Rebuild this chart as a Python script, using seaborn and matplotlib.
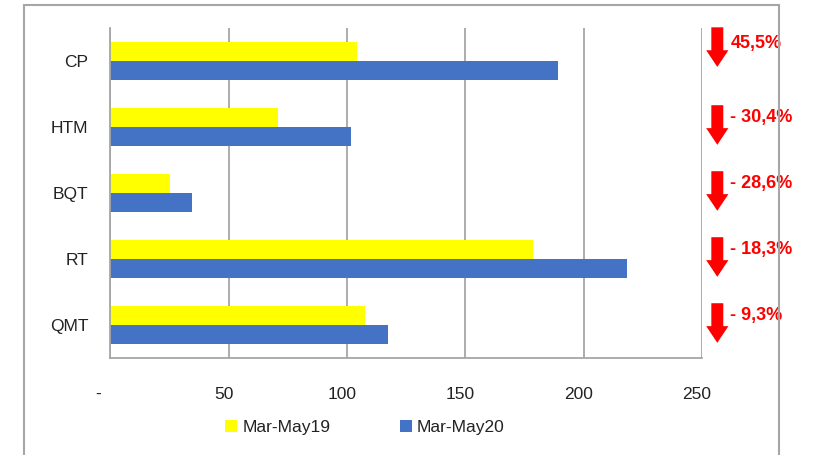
import matplotlib
matplotlib.use("Agg")
import matplotlib.pyplot as plt
import matplotlib.transforms as mtransforms
from matplotlib.patches import Rectangle
import seaborn as sns
import pandas as pd

# Data
categories = ["CP", "HTM", "BQT", "RT", "QMT"]
mar_may19 = [104, 71, 25, 178.5, 107.5]
mar_may20 = [189, 101.5, 34.5, 218.5, 117.5]
series_names = ["Mar-May19", "Mar-May20"]
changes = ["45,5%", "- 30,4%", "- 28,6%", "- 18,3%", "- 9,3%"]
x_ticks = [0, 50, 100, 150, 200, 250]
x_ticklabels = ["-", "50", "100", "150", "200", "250"]

df = pd.DataFrame({
    "cat": categories * 2,
    "val": mar_may19 + mar_may20,
    "period": [series_names[0]] * 5 + [series_names[1]] * 5,
})

sns.set_style("white")
plt.rcParams["font.family"] = ["Liberation Sans", "DejaVu Sans"]
grey = "#a6a6a6"

fig = plt.figure(figsize=(8.16, 4.55), dpi=100)
ax = fig.add_axes([0.1354, 0.2132, 0.7248, 0.7253])

sns.barplot(data=df, y="cat", x="val", hue="period", orient="h",
            palette=["#ffff00", "#4472c4"], width=0.58, saturation=1,
            linewidth=0, ax=ax, legend=True)

ax.set_xlim(0, 250)
ax.set_ylim(4.5, -0.5)
ax.set_xlabel("")
ax.set_ylabel("")
ax.set_xticks(x_ticks)
ax.set_xticklabels(x_ticklabels)
ax.grid(axis="x", color=grey, linewidth=1.3)
ax.set_axisbelow(True)
for s in ["top", "right"]:
    ax.spines[s].set_visible(False)
for s in ["left", "bottom"]:
    ax.spines[s].set_color(grey)
    ax.spines[s].set_linewidth(1.3)

# y ticks sit between the categories, labels centred on the bands
ax.set_yticks([i + 0.5 for i in range(-1, 5)], minor=False)
ax.set_yticklabels([])
ax.set_yticks(range(len(categories)), minor=True)
ax.set_yticklabels(categories, minor=True)
ax.tick_params(axis="y", which="major", direction="out", length=7, color=grey, width=1.3)
ax.tick_params(axis="y", which="minor", length=0, pad=16, labelsize=12.5, labelcolor="#222222")
ax.tick_params(axis="x", direction="out", length=8, color=grey, width=1.3,
               pad=13, labelsize=12.5, labelcolor="#222222")
shift = mtransforms.ScaledTranslation(-5 / 100, 0, fig.dpi_scale_trans)
for i, lab in enumerate(ax.get_xticklabels()):
    extra = mtransforms.ScaledTranslation(-12 / 100, 0, fig.dpi_scale_trans) if i == 0 else shift
    lab.set_transform(lab.get_transform() + extra)

# legend below the plot
handles, labels = ax.get_legend_handles_labels()
ax.legend_.remove()
fig.legend(handles, labels, loc="center", bbox_to_anchor=(0.447, 0.06),
           ncol=2, frameon=False, fontsize=12.5, handlelength=0.7, handleheight=0.7,
           handletextpad=0.3, columnspacing=4.0, labelcolor="#222222")

# red down arrows with percentage changes
blend = mtransforms.blended_transform_factory(ax.transAxes, ax.transData)
arrow_shift = [-0.18, 0, 0, 0, 0]
for i, txt in enumerate(changes):
    top = i - 0.33 + arrow_shift[i]
    ax.annotate("", xy=(1.026, top + 0.6), xytext=(1.026, top), xycoords=blend,
                textcoords=blend, annotation_clip=False,
                arrowprops=dict(arrowstyle="simple,head_length=0.6,head_width=0.8,tail_width=0.43",
                                fc="#ff0000", ec="none", shrinkA=0, shrinkB=0,
                                mutation_scale=20))
    ax.text(1.048, i - 0.15 + arrow_shift[i] * 0.6, txt, transform=blend, color="#ff0000",
            fontsize=13, fontweight="bold", ha="left", va="center", clip_on=False)

# outer chart frame
fig.patches.append(Rectangle((24 / 816, -0.02), (779 - 24) / 816, 1.02 - 5 / 455,
                             transform=fig.transFigure, fill=False,
                             edgecolor=grey, linewidth=1.5))

fig.savefig("out.png", dpi=100)
